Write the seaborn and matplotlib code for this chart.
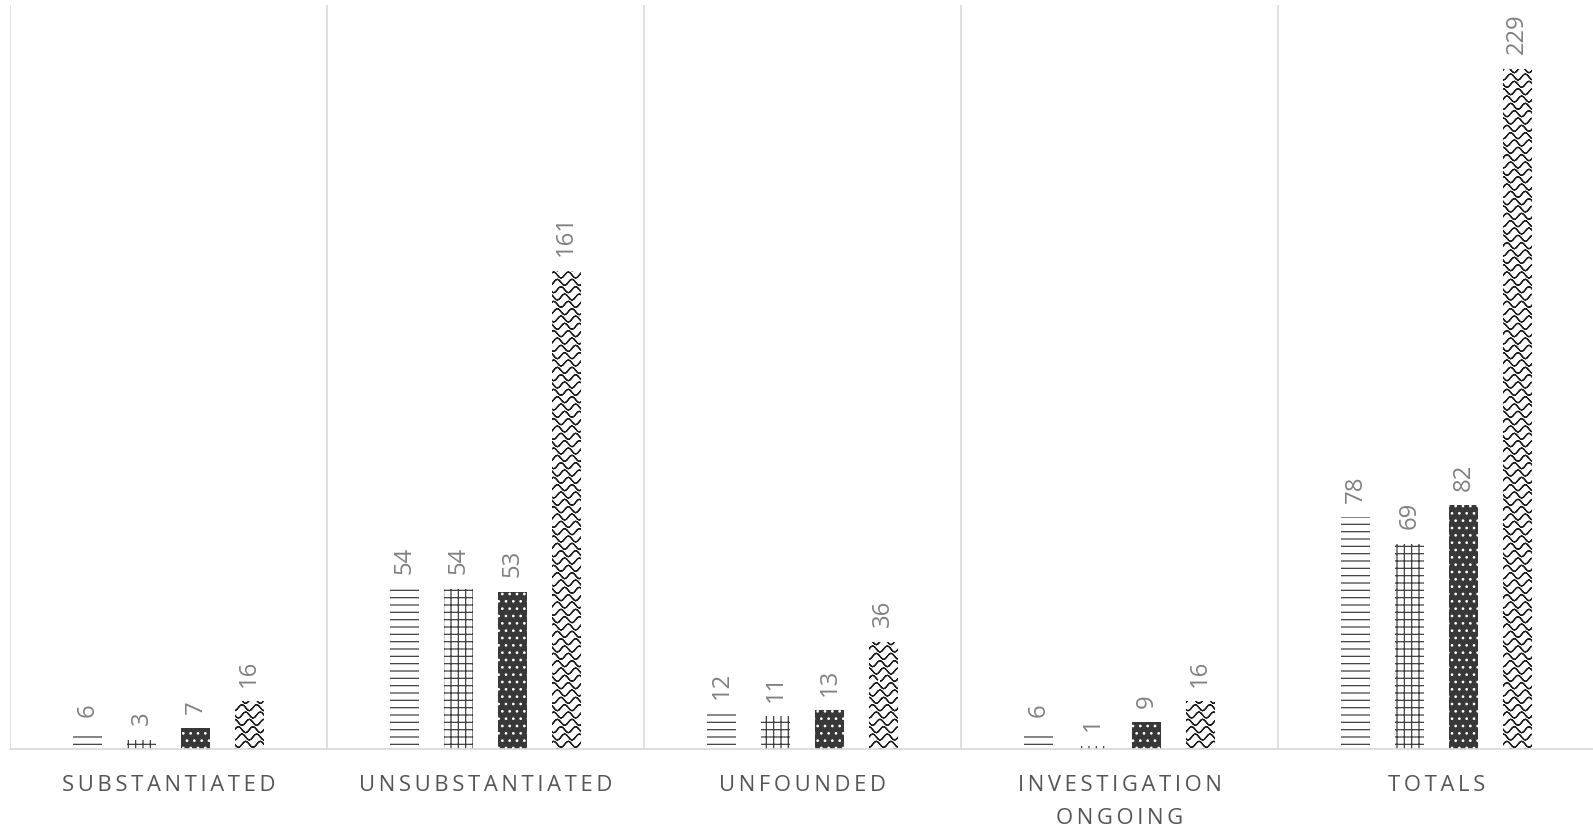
import numpy as np
import pandas as pd
import matplotlib
matplotlib.use("Agg")
import matplotlib.pyplot as plt
import matplotlib.hatch as mhatch
from matplotlib.path import Path
import seaborn as sns

# ---------------- data ----------------
categories = ["SUBSTANTIATED", "UNSUBSTANTIATED", "UNFOUNDED",
              "INVESTIGATION\nONGOING", "TOTALS"]
series_names = ["Series 1", "Series 2", "Series 3", "Total"]
series1 = [6, 54, 12, 6, 78]
series2 = [3, 54, 11, 1, 69]
series3 = [7, 53, 13, 9, 82]
series4 = [16, 161, 36, 16, 229]

# ---------------- custom wave hatch (replaces '*') ----------------
class WaveHatch(mhatch.HatchPatternBase):
    def __init__(self, hatch, density):
        self.rows = 12 if '*' in hatch else 0
        self.periods = 6
        self.pts = 8
        self.half = self.periods * self.pts + 1
        self.per_row = 2 * self.half  # forward + backward (zero-area stroke)
        self.num_vertices = self.rows * self.per_row

    def set_vertices_and_codes(self, vertices, codes):
        x = np.linspace(0, 1, self.half)
        for i in range(self.rows):
            y0 = (i + 0.5) / self.rows
            phase = (np.pi / 2) * i
            y = y0 + 0.42 / self.rows * np.sin(2 * np.pi * self.periods * x + phase)
            xs = np.concatenate([x, x[::-1]])
            ys = np.concatenate([y, y[::-1]])
            s = slice(i * self.per_row, (i + 1) * self.per_row)
            vertices[s, 0] = xs
            vertices[s, 1] = ys
            codes[s] = Path.LINETO
            codes[i * self.per_row] = Path.MOVETO

mhatch._hatch_types = [t for t in mhatch._hatch_types if t is not mhatch.Stars] + [WaveHatch]

# ---------------- styling ----------------
sns.set_style("white")
plt.rcParams["font.family"] = ["Open Sans", "DejaVu Sans"]
plt.rcParams["hatch.linewidth"] = 1.0

DPI = 88
fig = plt.figure(figsize=(1593 / DPI, 832 / DPI), dpi=DPI)
W, H = 1593, 832
ax = fig.add_axes([10 / W, (H - 749) / H, 1585 / W, 744 / H])

records = []
for name, vals in zip(series_names, [series1, series2, series3, series4]):
    for c, v in zip(categories, vals):
        records.append({"category": c, "series": name, "count": v})
df = pd.DataFrame(records)

sns.barplot(data=df, x="category", y="count", hue="series",
            order=categories, hue_order=series_names,
            width=0.68, gap=0.465, legend=False, ax=ax,
            palette=["white", "white", "#3a3a3a", "white"])

styles = [
    dict(face="white", edge="#3c3c3c", hatch="--"),
    dict(face="white", edge="#3c3c3c", hatch="++"),
    dict(face="#383838", edge="white", hatch=".."),
    dict(face="white", edge="#1e1e1e", hatch="*"),
]
for cont, st in zip(ax.containers, styles):
    for bar in cont:
        bar.set_facecolor(st["face"])
        bar.set_edgecolor(st["edge"])
        bar.set_hatch(st["hatch"])
        bar.set_linewidth(0)
    ax.bar_label(cont, rotation=90, padding=12, color="#808080",
                 fontsize=19.5, fmt="%g")

ax.set_ylim(0, 250.5)
n = len(categories)
ax.set_xlim(-0.5, n - 0.5)
ax.vlines(np.arange(n) - 0.5, 0, 250.5, color="#d9d9d9", lw=1.3, zorder=0)

for s in ["top", "right", "left"]:
    ax.spines[s].set_visible(False)
ax.spines["bottom"].set_color("#d9d9d9")
ax.spines["bottom"].set_linewidth(1.4)
ax.set_yticks([])

def spaced(t):
    return "\n".join(" ".join("\u2009".join(w) for w in line.split(" "))
                     for line in t.split("\n"))

ax.set_xticks(range(n), labels=[spaced(c) for c in categories])
ax.tick_params(axis="x", length=0, pad=21, labelsize=18, labelcolor="#555555")
for lbl in ax.get_xticklabels():
    lbl.set_linespacing(1.75)
ax.set_xlabel("")
ax.set_ylabel("")

fig.savefig("out.png", dpi=DPI)
